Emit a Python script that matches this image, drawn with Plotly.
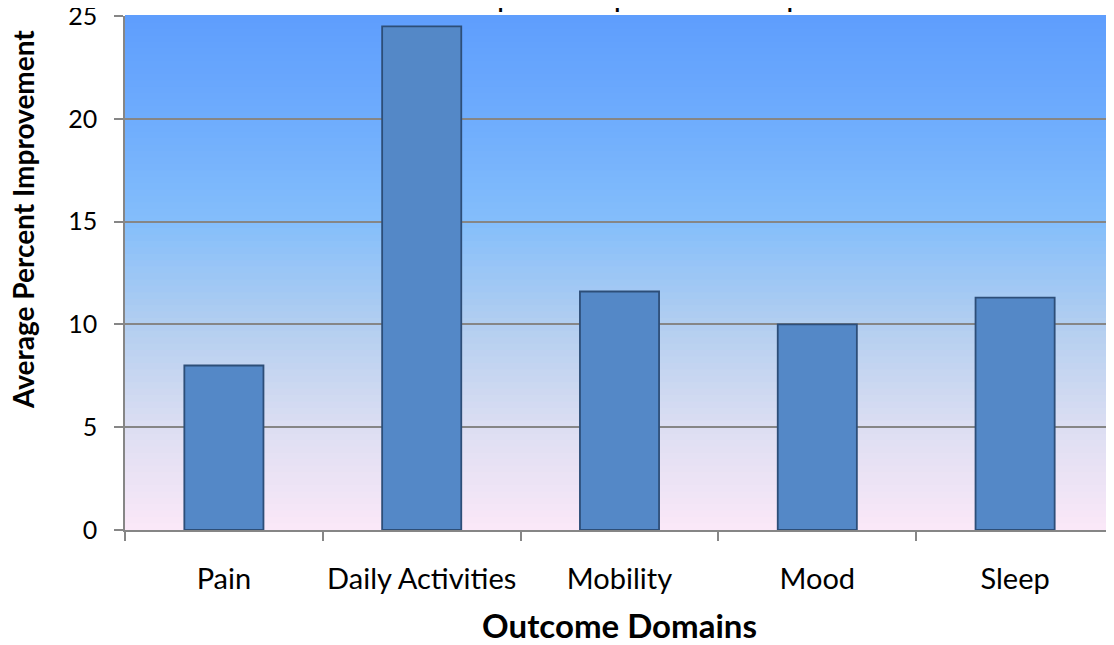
import plotly.graph_objects as go

categories = ["Pain", "Daily Activities", "Mobility", "Mood", "Sleep"]
values = [8.0, 24.5, 11.6, 10.0, 11.3]
y_ticks = [0, 5, 10, 15, 20, 25]
title_text = "Mean Improvement per Domain Component"
x_title = "Outcome Domains"
y_title = "Average Percent Improvement"

FONT = "Lato"

# background gradient stops (fraction from bottom, rgb)
stops = [
    (0.0, (251, 232, 248)),
    (0.2, (220, 222, 242)),
    (0.4, (178, 206, 240)),
    (0.6, (132, 190, 251)),
    (0.8, (110, 172, 253)),
    (1.0, (95, 158, 253)),
]

def interp(t):
    for (t0, c0), (t1, c1) in zip(stops[:-1], stops[1:]):
        if t0 <= t <= t1:
            f = (t - t0) / (t1 - t0)
            return tuple(round(a + (b - a) * f) for a, b in zip(c0, c1))
    return stops[-1][1]

n_bands = 80
shapes = []
for i in range(n_bands):
    t = (i + 0.5) / n_bands
    r, g, b = interp(t)
    shapes.append(dict(
        type="rect", xref="paper", yref="paper",
        x0=0, x1=1, y0=i / n_bands, y1=(i + 1) / n_bands + 0.002,
        fillcolor=f"rgb({r},{g},{b})", line=dict(width=0), layer="below",
    ))

fig = go.Figure(go.Bar(
    x=categories, y=values,
    marker=dict(color="rgb(84,136,199)", line=dict(color="rgb(45,78,120)", width=1.8)),
    width=0.4,
))

fig.update_layout(
    width=1106, height=637,
    margin=dict(l=117, r=0, t=8, b=115, autoexpand=False),
    paper_bgcolor="white",
    plot_bgcolor="rgba(0,0,0,0)",
    shapes=shapes,
    showlegend=False,
    font=dict(family=FONT, color="black"),
    annotations=[
        dict(
            text=f"<b>{title_text}</b>", xref="paper", yref="paper",
            x=0.284, y=1, xanchor="left", yanchor="bottom", yshift=1,
            showarrow=False, font=dict(family=FONT, size=23, color="black"),
        ),
        dict(
            text=f"<b>{y_title}</b>", xref="paper", yref="paper",
            x=0, y=0.603, xanchor="center", yanchor="middle", xshift=-102,
            textangle=-90, showarrow=False,
            font=dict(family=FONT, size=28, color="black"),
        ),
    ],
)

fig.update_xaxes(
    range=[-0.5, 4.5],
    showline=True, linecolor="rgb(134,134,134)", linewidth=1.5,
    ticks="outside", tickson="boundaries", ticklen=9, tickcolor="rgb(134,134,134)", tickwidth=1.5,
    tickfont=dict(family=FONT, size=29, color="black"),
    tickangle=0, automargin=False,
    ticklabelstandoff=22,
    title=dict(text=f"<b>{x_title}</b>", font=dict(family=FONT, size=33, color="black"), standoff=24),
    showgrid=False,
)
fig.update_yaxes(
    range=[0, 25], tickvals=y_ticks,
    showline=True, linecolor="rgb(134,134,134)", linewidth=1.5,
    ticks="outside", ticklen=9, tickcolor="rgb(134,134,134)", tickwidth=1.5,
    showgrid=True, gridcolor="rgb(134,134,134)", gridwidth=1.5,
    tickfont=dict(family=FONT, size=25, color="black"),
    ticklabelstandoff=12, ticklabeloverflow="allow", automargin=False,
    zeroline=False,
)

fig.write_html("out.html")
